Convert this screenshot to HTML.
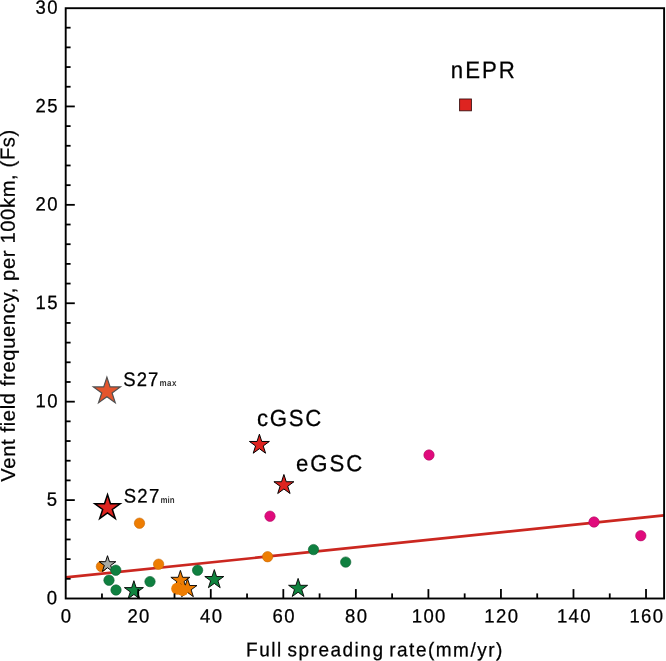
<!DOCTYPE html>
<html><head><meta charset="utf-8"><style>html,body{margin:0;padding:0;background:#fff;width:666px;height:661px;overflow:hidden}svg{display:block;will-change:transform}text{text-rendering:geometricPrecision}</style></head>
<body>
<svg width="666" height="661" viewBox="0 0 666 661">
<rect width="666" height="661" fill="#fff"/>
<line x1="65.7" y1="577.4" x2="664.1" y2="515.40" stroke="#cb2720" stroke-width="2.6"/>
<circle cx="101.4" cy="566.5" r="5.20" fill="#ee7d02" stroke="#c86a08" stroke-width="0.6"/>
<polygon points="107.50,555.70 109.45,561.71 115.77,561.71 110.66,565.43 112.61,571.44 107.50,567.72 102.39,571.44 104.34,565.43 99.23,561.71 105.55,561.71" fill="#a8aaa4" stroke="#000" stroke-width="1.0"/>
<circle cx="115.8" cy="570.2" r="5.20" fill="#0f8040" stroke="#0b5f30" stroke-width="0.6"/>
<circle cx="109" cy="580.2" r="5.20" fill="#0f8040" stroke="#0b5f30" stroke-width="0.6"/>
<circle cx="116" cy="590" r="5.20" fill="#0f8040" stroke="#0b5f30" stroke-width="0.6"/>
<circle cx="150" cy="581.6" r="5.20" fill="#0f8040" stroke="#0b5f30" stroke-width="0.6"/>
<circle cx="197.6" cy="570.2" r="5.20" fill="#0f8040" stroke="#0b5f30" stroke-width="0.6"/>
<circle cx="313.5" cy="549.6" r="5.20" fill="#0f8040" stroke="#0b5f30" stroke-width="0.6"/>
<circle cx="345.7" cy="562.1" r="5.20" fill="#0f8040" stroke="#0b5f30" stroke-width="0.6"/>
<circle cx="158.6" cy="564.2" r="5.20" fill="#ee7d02" stroke="#c86a08" stroke-width="0.6"/>
<circle cx="267.6" cy="556.7" r="5.20" fill="#ee7d02" stroke="#c86a08" stroke-width="0.6"/>
<circle cx="139.5" cy="523.2" r="5.20" fill="#ee7d02" stroke="#c86a08" stroke-width="0.6"/>
<polygon points="180.40,570.40 182.65,577.31 189.91,577.31 184.03,581.58 186.28,588.49 180.40,584.22 174.52,588.49 176.77,581.58 170.89,577.31 178.15,577.31" fill="#ee7d02" stroke="#000" stroke-width="0.9"/>
<polygon points="187.50,578.60 189.75,585.51 197.01,585.51 191.13,589.78 193.38,596.69 187.50,592.42 181.62,596.69 183.87,589.78 177.99,585.51 185.25,585.51" fill="#ee7d02" stroke="#000" stroke-width="0.9"/>
<circle cx="177.2" cy="588.7" r="6.0" fill="#ee7d02"/>
<circle cx="182.6" cy="590.2" r="5.8" fill="#ee7d02"/>
<polygon points="133.90,580.70 136.15,587.61 143.41,587.61 137.53,591.88 139.78,598.79 133.90,594.52 128.02,598.79 130.27,591.88 124.39,587.61 131.65,587.61" fill="#10843f" stroke="#000" stroke-width="0.9"/>
<polygon points="214.30,569.60 216.55,576.51 223.81,576.51 217.93,580.78 220.18,587.69 214.30,583.42 208.42,587.69 210.67,580.78 204.79,576.51 212.05,576.51" fill="#10843f" stroke="#000" stroke-width="0.9"/>
<polygon points="298.10,578.40 300.35,585.31 307.61,585.31 301.73,589.58 303.98,596.49 298.10,592.22 292.22,596.49 294.47,589.58 288.59,585.31 295.85,585.31" fill="#10843f" stroke="#000" stroke-width="0.9"/>
<circle cx="429" cy="455" r="5.20" fill="#e00a7c" stroke="#b00a62" stroke-width="0.6"/>
<circle cx="270" cy="516.2" r="5.20" fill="#e00a7c" stroke="#b00a62" stroke-width="0.6"/>
<circle cx="594" cy="522" r="5.20" fill="#e00a7c" stroke="#b00a62" stroke-width="0.6"/>
<circle cx="640.8" cy="535.7" r="5.20" fill="#e00a7c" stroke="#b00a62" stroke-width="0.6"/>
<polygon points="259.40,434.20 261.76,441.46 269.39,441.46 263.21,445.94 265.57,453.19 259.40,448.71 253.23,453.19 255.59,445.94 249.41,441.46 257.04,441.46" fill="#de2420" stroke="#000" stroke-width="1.0"/>
<polygon points="283.90,474.50 286.26,481.76 293.89,481.76 287.71,486.24 290.07,493.49 283.90,489.01 277.73,493.49 280.09,486.24 273.91,481.76 281.54,481.76" fill="#de2420" stroke="#000" stroke-width="1.0"/>
<polygon points="107.50,494.60 110.49,503.79 120.15,503.79 112.33,509.47 115.32,518.66 107.50,512.98 99.68,518.66 102.67,509.47 94.85,503.79 104.51,503.79" fill="#de2420" stroke="#000" stroke-width="1.5"/>
<polygon points="106.90,377.10 110.09,386.91 120.41,386.91 112.06,392.98 115.25,402.79 106.90,396.72 98.55,402.79 101.74,392.98 93.39,386.91 103.71,386.91" fill="#e4552d" stroke="#505050" stroke-width="1.2"/>
<rect x="459.6" y="99" width="11.8" height="11.8" fill="#de2420" stroke="#3a1010" stroke-width="0.9"/>
<rect x="65.7" y="8.2" width="598.4" height="590.3" fill="none" stroke="#000" stroke-width="1.9"/>
<line x1="65.7" y1="578.82" x2="70.60" y2="578.82" stroke="#000" stroke-width="1.8"/>
<line x1="65.7" y1="559.13" x2="70.60" y2="559.13" stroke="#000" stroke-width="1.8"/>
<line x1="65.7" y1="539.45" x2="70.60" y2="539.45" stroke="#000" stroke-width="1.8"/>
<line x1="65.7" y1="519.77" x2="70.60" y2="519.77" stroke="#000" stroke-width="1.8"/>
<line x1="65.7" y1="500.09" x2="74.80" y2="500.09" stroke="#000" stroke-width="1.8"/>
<line x1="65.7" y1="480.40" x2="70.60" y2="480.40" stroke="#000" stroke-width="1.8"/>
<line x1="65.7" y1="460.72" x2="70.60" y2="460.72" stroke="#000" stroke-width="1.8"/>
<line x1="65.7" y1="441.04" x2="70.60" y2="441.04" stroke="#000" stroke-width="1.8"/>
<line x1="65.7" y1="421.35" x2="70.60" y2="421.35" stroke="#000" stroke-width="1.8"/>
<line x1="65.7" y1="401.67" x2="74.80" y2="401.67" stroke="#000" stroke-width="1.8"/>
<line x1="65.7" y1="381.99" x2="70.60" y2="381.99" stroke="#000" stroke-width="1.8"/>
<line x1="65.7" y1="362.30" x2="70.60" y2="362.30" stroke="#000" stroke-width="1.8"/>
<line x1="65.7" y1="342.62" x2="70.60" y2="342.62" stroke="#000" stroke-width="1.8"/>
<line x1="65.7" y1="322.94" x2="70.60" y2="322.94" stroke="#000" stroke-width="1.8"/>
<line x1="65.7" y1="303.25" x2="74.80" y2="303.25" stroke="#000" stroke-width="1.8"/>
<line x1="65.7" y1="283.57" x2="70.60" y2="283.57" stroke="#000" stroke-width="1.8"/>
<line x1="65.7" y1="263.89" x2="70.60" y2="263.89" stroke="#000" stroke-width="1.8"/>
<line x1="65.7" y1="244.21" x2="70.60" y2="244.21" stroke="#000" stroke-width="1.8"/>
<line x1="65.7" y1="224.52" x2="70.60" y2="224.52" stroke="#000" stroke-width="1.8"/>
<line x1="65.7" y1="204.84" x2="74.80" y2="204.84" stroke="#000" stroke-width="1.8"/>
<line x1="65.7" y1="185.16" x2="70.60" y2="185.16" stroke="#000" stroke-width="1.8"/>
<line x1="65.7" y1="165.47" x2="70.60" y2="165.47" stroke="#000" stroke-width="1.8"/>
<line x1="65.7" y1="145.79" x2="70.60" y2="145.79" stroke="#000" stroke-width="1.8"/>
<line x1="65.7" y1="126.11" x2="70.60" y2="126.11" stroke="#000" stroke-width="1.8"/>
<line x1="65.7" y1="106.43" x2="74.80" y2="106.43" stroke="#000" stroke-width="1.8"/>
<line x1="65.7" y1="86.74" x2="70.60" y2="86.74" stroke="#000" stroke-width="1.8"/>
<line x1="65.7" y1="67.06" x2="70.60" y2="67.06" stroke="#000" stroke-width="1.8"/>
<line x1="65.7" y1="47.38" x2="70.60" y2="47.38" stroke="#000" stroke-width="1.8"/>
<line x1="65.7" y1="27.69" x2="70.60" y2="27.69" stroke="#000" stroke-width="1.8"/>
<line x1="101.97" y1="598.5" x2="101.97" y2="593.40" stroke="#000" stroke-width="1.8"/>
<line x1="138.24" y1="598.5" x2="138.24" y2="589.10" stroke="#000" stroke-width="1.8"/>
<line x1="174.51" y1="598.5" x2="174.51" y2="593.40" stroke="#000" stroke-width="1.8"/>
<line x1="210.78" y1="598.5" x2="210.78" y2="589.10" stroke="#000" stroke-width="1.8"/>
<line x1="247.05" y1="598.5" x2="247.05" y2="593.40" stroke="#000" stroke-width="1.8"/>
<line x1="283.32" y1="598.5" x2="283.32" y2="589.10" stroke="#000" stroke-width="1.8"/>
<line x1="319.59" y1="598.5" x2="319.59" y2="593.40" stroke="#000" stroke-width="1.8"/>
<line x1="355.86" y1="598.5" x2="355.86" y2="589.10" stroke="#000" stroke-width="1.8"/>
<line x1="392.13" y1="598.5" x2="392.13" y2="593.40" stroke="#000" stroke-width="1.8"/>
<line x1="428.40" y1="598.5" x2="428.40" y2="589.10" stroke="#000" stroke-width="1.8"/>
<line x1="464.67" y1="598.5" x2="464.67" y2="593.40" stroke="#000" stroke-width="1.8"/>
<line x1="500.94" y1="598.5" x2="500.94" y2="589.10" stroke="#000" stroke-width="1.8"/>
<line x1="537.21" y1="598.5" x2="537.21" y2="593.40" stroke="#000" stroke-width="1.8"/>
<line x1="573.48" y1="598.5" x2="573.48" y2="589.10" stroke="#000" stroke-width="1.8"/>
<line x1="609.75" y1="598.5" x2="609.75" y2="593.40" stroke="#000" stroke-width="1.8"/>
<line x1="646.02" y1="598.5" x2="646.02" y2="589.10" stroke="#000" stroke-width="1.8"/>
<text transform="translate(46.63,604.20) rotate(0.05) scale(1,1.04)" font-size="18.5" letter-spacing="1.35" font-family="Liberation Sans, sans-serif" stroke="#000" stroke-width="0.25">0</text>
<text transform="translate(46.63,505.79) rotate(0.05) scale(1,1.04)" font-size="18.5" letter-spacing="1.35" font-family="Liberation Sans, sans-serif" stroke="#000" stroke-width="0.25">5</text>
<text transform="translate(35.60,407.37) rotate(0.05) scale(1,1.04)" font-size="18.5" letter-spacing="1.35" font-family="Liberation Sans, sans-serif" stroke="#000" stroke-width="0.25">10</text>
<text transform="translate(35.60,308.95) rotate(0.05) scale(1,1.04)" font-size="18.5" letter-spacing="1.35" font-family="Liberation Sans, sans-serif" stroke="#000" stroke-width="0.25">15</text>
<text transform="translate(35.60,210.54) rotate(0.05) scale(1,1.04)" font-size="18.5" letter-spacing="1.35" font-family="Liberation Sans, sans-serif" stroke="#000" stroke-width="0.25">20</text>
<text transform="translate(35.60,112.13) rotate(0.05) scale(1,1.04)" font-size="18.5" letter-spacing="1.35" font-family="Liberation Sans, sans-serif" stroke="#000" stroke-width="0.25">25</text>
<text transform="translate(35.60,13.71) rotate(0.05) scale(1,1.04)" font-size="18.5" letter-spacing="1.35" font-family="Liberation Sans, sans-serif" stroke="#000" stroke-width="0.25">30</text>
<text transform="translate(60.76,622.55) rotate(0.05) scale(1,1.04)" font-size="18.5" letter-spacing="1.35" font-family="Liberation Sans, sans-serif" stroke="#000" stroke-width="0.25">0</text>
<text transform="translate(127.48,622.55) rotate(0.05) scale(1,1.04)" font-size="18.5" letter-spacing="1.35" font-family="Liberation Sans, sans-serif" stroke="#000" stroke-width="0.25">20</text>
<text transform="translate(200.02,622.55) rotate(0.05) scale(1,1.04)" font-size="18.5" letter-spacing="1.35" font-family="Liberation Sans, sans-serif" stroke="#000" stroke-width="0.25">40</text>
<text transform="translate(272.56,622.55) rotate(0.05) scale(1,1.04)" font-size="18.5" letter-spacing="1.35" font-family="Liberation Sans, sans-serif" stroke="#000" stroke-width="0.25">60</text>
<text transform="translate(345.10,622.55) rotate(0.05) scale(1,1.04)" font-size="18.5" letter-spacing="1.35" font-family="Liberation Sans, sans-serif" stroke="#000" stroke-width="0.25">80</text>
<text transform="translate(411.82,622.55) rotate(0.05) scale(1,1.04)" font-size="18.5" letter-spacing="1.35" font-family="Liberation Sans, sans-serif" stroke="#000" stroke-width="0.25">100</text>
<text transform="translate(484.36,622.55) rotate(0.05) scale(1,1.04)" font-size="18.5" letter-spacing="1.35" font-family="Liberation Sans, sans-serif" stroke="#000" stroke-width="0.25">120</text>
<text transform="translate(556.90,622.55) rotate(0.05) scale(1,1.04)" font-size="18.5" letter-spacing="1.35" font-family="Liberation Sans, sans-serif" stroke="#000" stroke-width="0.25">140</text>
<text transform="translate(629.44,622.55) rotate(0.05) scale(1,1.04)" font-size="18.5" letter-spacing="1.35" font-family="Liberation Sans, sans-serif" stroke="#000" stroke-width="0.25">160</text>
<text transform="translate(246.1,656.2) rotate(0.05) scale(1,1.04)" font-size="19" letter-spacing="1.50" word-spacing="-2.0" font-family="Liberation Sans, sans-serif" stroke="#000" stroke-width="0.25">Full spreading rate(mm/yr)</text>
<text transform="translate(14.9,481.66) rotate(-90.05)" x="0" y="0" font-size="20.2" letter-spacing="0.624" font-family="Liberation Sans, sans-serif" stroke="#000" stroke-width="0.25">Vent field frequency, per 100km, (Fs)</text>
<text transform="translate(450.87,78.0) rotate(0.05) scale(1,1.07)" font-size="22.2" letter-spacing="1.971" font-family="Liberation Sans, sans-serif" stroke="#000" stroke-width="0.25">nEPR</text>
<text transform="translate(257.10,425.9) rotate(0.05) scale(1,1.05)" font-size="22.2" letter-spacing="1.672" font-family="Liberation Sans, sans-serif" stroke="#000" stroke-width="0.25">cGSC</text>
<text transform="translate(296.10,471.2) rotate(0.05) scale(1,1.05)" font-size="22.2" letter-spacing="1.925" font-family="Liberation Sans, sans-serif" stroke="#000" stroke-width="0.25">eGSC</text>
<text transform="translate(123.29,386.0) rotate(0.05) scale(1,1.06)" font-size="18.5" letter-spacing="1.012" font-family="Liberation Sans, sans-serif" stroke="#000" stroke-width="0.25">S27</text>
<text transform="translate(123.79,502.5) rotate(0.05) scale(1,1.06)" font-size="18.5" letter-spacing="1.243" font-family="Liberation Sans, sans-serif" stroke="#000" stroke-width="0.25">S27</text>
<text transform="translate(159.6,386.1) rotate(0.05) scale(1,1.15)" font-size="8.0" font-weight="bold" letter-spacing="0.4" fill="#383838" font-family="Liberation Sans, sans-serif">max</text>
<text transform="translate(160.5,502.9) rotate(0.05) scale(1,1.15)" font-size="7.9" font-weight="bold" letter-spacing="0.0" fill="#383838" font-family="Liberation Sans, sans-serif">min</text>
</svg>
</body></html>
